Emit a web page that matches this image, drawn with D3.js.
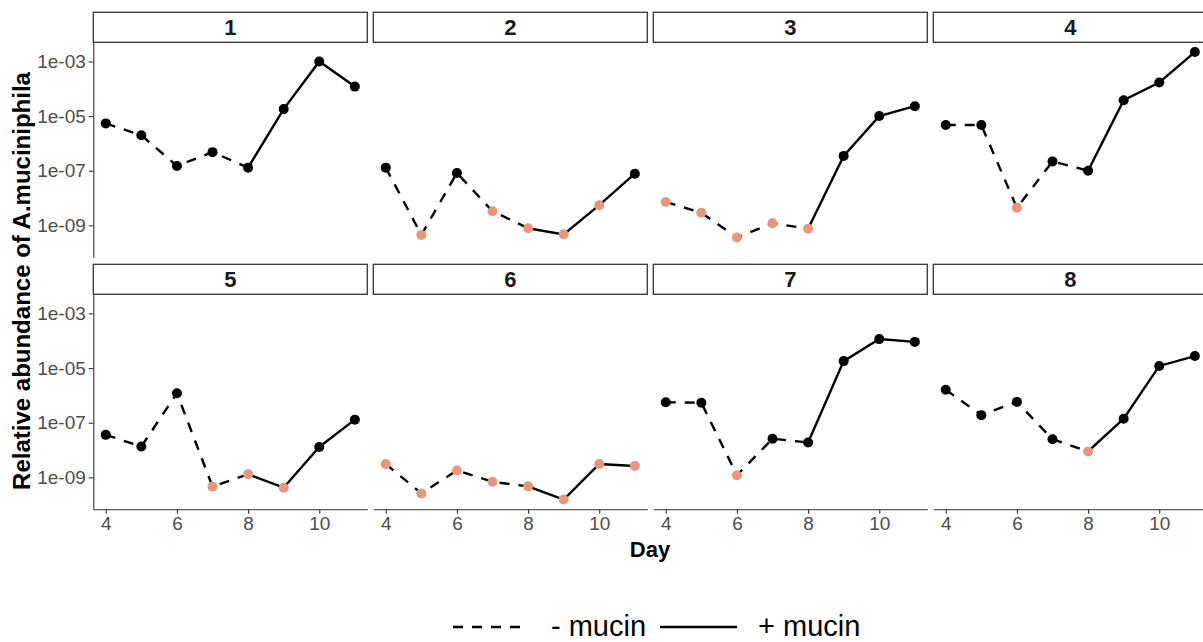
<!DOCTYPE html>
<html>
<head>
<meta charset="utf-8">
<script src="https://cdn.jsdelivr.net/npm/d3@7"></script>
<style>
  body { margin: 0; background: #fff; }
  text { font-family: "Liberation Sans", Arial, sans-serif; }
</style>
</head>
<body>
<script>
// one facet per subject, days 4-11, relative abundance (log scale)
let subjects = ['1', '2', '3', '4', '5', '6', '7', '8'];
let days = [4, 5, 6, 7, 8, 9, 10, 11];

let abundance1 = [5.4e-6, 2.0e-6, 1.5e-7, 4.8e-7, 1.3e-7, 1.8e-5, 1.0e-3, 1.2e-4];
let abundance2 = [1.3e-7, 4.5e-10, 8.3e-8, 3.3e-9, 7.9e-10, 4.7e-10, 5.5e-9, 7.8e-8];
let abundance3 = [7.2e-9, 2.9e-9, 3.6e-10, 1.2e-9, 7.6e-10, 3.5e-7, 1.0e-5, 2.3e-5];
let abundance4 = [4.7e-6, 4.7e-6, 4.4e-9, 2.2e-7, 1.0e-7, 3.8e-5, 1.7e-4, 2.2e-3];
let abundance5 = [3.6e-8, 1.35e-8, 1.2e-6, 4.6e-10, 1.3e-9, 4.2e-10, 1.3e-8, 1.3e-7];
let abundance6 = [3.1e-9, 2.6e-10, 1.8e-9, 6.9e-10, 4.7e-10, 1.55e-10, 3.1e-9, 2.6e-9];
let abundance7 = [5.6e-7, 5.4e-7, 1.2e-9, 2.6e-8, 1.9e-8, 1.8e-5, 1.15e-4, 9.1e-5];
let abundance8 = [1.6e-6, 1.9e-7, 5.8e-7, 2.5e-8, 8.9e-9, 1.4e-7, 1.2e-5, 2.75e-5];

// 1 = below detection limit (drawn in salmon)
let belowLimit1 = [0, 0, 0, 0, 0, 0, 0, 0];
let belowLimit2 = [0, 1, 0, 1, 1, 1, 1, 0];
let belowLimit3 = [1, 1, 1, 1, 1, 0, 0, 0];
let belowLimit4 = [0, 0, 1, 0, 0, 0, 0, 0];
let belowLimit5 = [0, 0, 0, 1, 1, 1, 0, 0];
let belowLimit6 = [1, 1, 1, 1, 1, 1, 1, 1];
let belowLimit7 = [0, 0, 1, 0, 0, 0, 0, 0];
let belowLimit8 = [0, 0, 0, 0, 1, 0, 0, 0];

let mucinStartDay = 8;   // - mucin up to day 8, + mucin from day 8
let xTicks = [4, 6, 8, 10];
let yTicks = [1e-3, 1e-5, 1e-7, 1e-9];
let yTickLabels = ['1e-03', '1e-05', '1e-07', '1e-09'];
let legendLabels = ['- mucin', '+ mucin'];

let abundances = [abundance1, abundance2, abundance3, abundance4, abundance5, abundance6, abundance7, abundance8];
let belowLimits = [belowLimit1, belowLimit2, belowLimit3, belowLimit4, belowLimit5, belowLimit6, belowLimit7, belowLimit8];

let data = subjects.map(function(s, i){
    return days.map(function(d, j){
        return {subject: s, day: d, value: abundances[i][j], low: belowLimits[i][j]};
    });
});

let W = 1203, H = 642;
let gridLeft = 93.3, gridTop = 12.3;
let panelW = 274, panelH = 215, stripH = 30;
let colStep = 280, rowStep = 252;

// scales with ggplot-like 5% expansion
let xExp = (d3.max(days) - d3.min(days)) * 0.05;
let xScale = d3.scaleLinear()
    .domain([d3.min(days) - xExp, d3.max(days) + xExp])
    .range([0, panelW]);

let allVals = abundances.flat();
let lo = Math.log10(d3.min(allVals)), hi = Math.log10(d3.max(allVals));
let yExp = (hi - lo) * 0.05;
let yScale = d3.scaleLog()
    .domain([Math.pow(10, lo - yExp), Math.pow(10, hi + yExp)])
    .range([panelH, 0]);

let svg = d3.select('body').append('svg')
    .attr('width', W)
    .attr('height', H);

svg.append('rect').attr('width', W).attr('height', H).attr('fill', '#fff');

let line = d3.line()
    .x(function(d){ return xScale(d.day); })
    .y(function(d){ return yScale(d.value); });

function styleAxis(a){
    a.select('.domain').attr('stroke', '#333').attr('stroke-width', 1.1);
    a.selectAll('.tick line').attr('stroke', '#333').attr('stroke-width', 1.1);
    a.selectAll('.tick text')
        .attr('fill', '#4d4d4d')
        .attr('font-size', '19px')
        .attr('font-family', '"Liberation Sans", Arial, sans-serif');
}

data.forEach(function(pts, i){
    let col = i % 4, row = Math.floor(i / 4);
    let g = svg.append('g')
        .attr('transform', 'translate(' + (gridLeft + col * colStep) + ',' + (gridTop + row * rowStep) + ')');

    // strip
    g.append('rect')
        .attr('x', 0).attr('y', 0)
        .attr('width', panelW).attr('height', stripH)
        .attr('fill', '#fff')
        .attr('stroke', '#333')
        .attr('stroke-width', 1.3);
    g.append('text')
        .attr('x', panelW / 2).attr('y', stripH / 2 + 8)
        .attr('text-anchor', 'middle')
        .attr('font-size', '22px')
        .attr('font-weight', 'bold')
        .attr('fill', '#1a1a1a')
        .text(subjects[i]);

    let p = g.append('g').attr('transform', 'translate(0,' + stripH + ')');

    if (col === 0) {
        let ya = p.append('g')
            .call(d3.axisLeft(yScale)
                .tickValues(yTicks)
                .tickFormat(function(d, k){ return yTickLabels[k]; })
                .tickSize(4.5).tickSizeOuter(0).tickPadding(3));
        styleAxis(ya);
    }
    if (row === 1) {
        let xa = p.append('g')
            .attr('transform', 'translate(0,' + panelH + ')')
            .call(d3.axisBottom(xScale)
                .tickValues(xTicks)
                .tickFormat(d3.format('d'))
                .tickSize(4.5).tickSizeOuter(0).tickPadding(3));
        styleAxis(xa);
    }

    p.append('path')
        .datum(pts.filter(function(d){ return d.day <= mucinStartDay; }))
        .attr('d', line)
        .attr('fill', 'none')
        .attr('stroke', '#000')
        .attr('stroke-width', 2.4)
        .attr('stroke-dasharray', '10,9');
    p.append('path')
        .datum(pts.filter(function(d){ return d.day >= mucinStartDay; }))
        .attr('d', line)
        .attr('fill', 'none')
        .attr('stroke', '#000')
        .attr('stroke-width', 2.4);

    p.selectAll('circle')
        .data(pts)
      .enter().append('circle')
        .attr('cx', function(d){ return xScale(d.day); })
        .attr('cy', function(d){ return yScale(d.value); })
        .attr('r', 5)
        .attr('fill', function(d){ return d.low ? '#e9967a' : '#000'; });
});

// axis titles
svg.append('text')
    .attr('x', 650).attr('y', 557)
    .attr('text-anchor', 'middle')
    .attr('font-size', '22px')
    .attr('font-weight', 'bold')
    .text('Day');

svg.append('text')
    .attr('transform', 'translate(30,281) rotate(-90)')
    .attr('text-anchor', 'middle')
    .attr('font-size', '24px')
    .attr('font-weight', 'bold')
    .text('Relative abundance of A.muciniphila');

// legend
let legendY = 627;
let legend = svg.append('g');
legend.append('line')
    .attr('x1', 453).attr('x2', 526).attr('y1', legendY).attr('y2', legendY)
    .attr('stroke', '#000').attr('stroke-width', 2.4)
    .attr('stroke-dasharray', '10,9');
legend.append('text')
    .attr('x', 551).attr('y', legendY + 9)
    .attr('font-size', '29px')
    .text(legendLabels[0]);
legend.append('line')
    .attr('x1', 660).attr('x2', 737).attr('y1', legendY).attr('y2', legendY)
    .attr('stroke', '#000').attr('stroke-width', 2.4);
legend.append('text')
    .attr('x', 758).attr('y', legendY + 9)
    .attr('font-size', '29px')
    .text(legendLabels[1]);
</script>
</body>
</html>
